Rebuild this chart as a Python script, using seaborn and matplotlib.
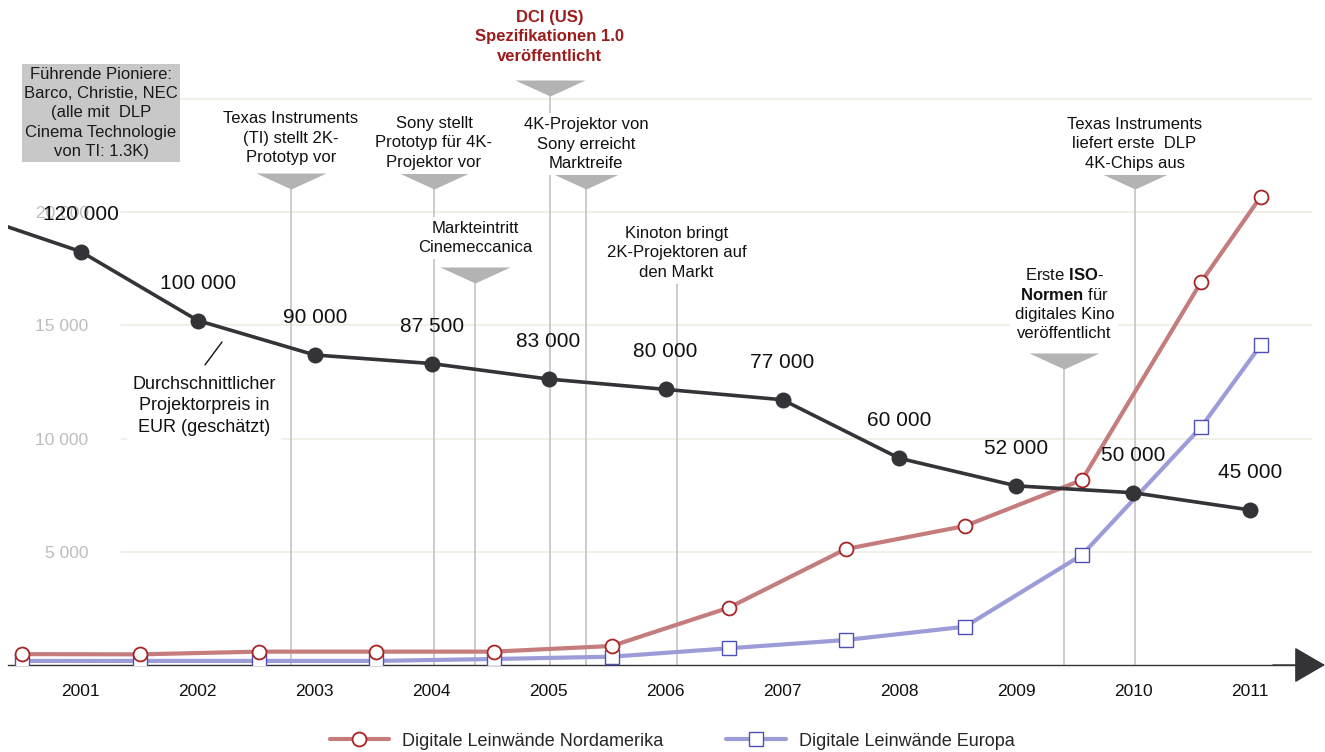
import matplotlib
matplotlib.use("Agg")
import matplotlib.pyplot as plt
import seaborn as sns

# data
years = [2001, 2002, 2003, 2004, 2005, 2006, 2007, 2008, 2009, 2010, 2011]
price_years = [2000] + years
price_eur = [131500, 120000, 100000, 90000, 87500, 83000, 80000, 77000, 60000, 52000, 50000, 45000]

year_bounds = [2000.5, 2001.5, 2002.5, 2003.5, 2004.5, 2005.5, 2006.5, 2007.5, 2008.5, 2009.5, 2010.5]
screen_years = [2000.5, 2001.51, 2002.52, 2003.52, 2004.53, 2005.54, 2006.54, 2007.54,
                2008.56, 2009.56, 2010.58, 2011.09]
screens_na = [480, 470, 590, 590, 590, 840, 2530, 5120, 6140, 8170, 16920, 20690]
screens_eu = [180, 180, 180, 180, 265, 367, 738, 1104, 1692, 4860, 10510, 14135]

grid_values = [5000, 10000, 15000, 20000, 25000]
tick_values = [5000, 10000, 15000, 20000]
tick_labels = ["5 000", "10 000", "15 000", "20 000"]

milestone_years = [2002.795, 2004.02, 2004.37, 2005.01, 2005.32, 2006.095, 2009.41, 2010.01]
milestone_texts = [
    "Texas Instruments\n(TI) stellt 2K-\nPrototyp vor",
    "Sony stellt\nPrototyp für 4K-\nProjektor vor",
    "Markteintritt\nCinemeccanica",
    "DCI (US)\nSpezifikationen 1.0\nveröffentlicht",
    "4K-Projektor von\nSony erreicht\nMarktreife",
    "Kinoton bringt\n2K-Projektoren auf\nden Markt",
    "Erste $\\mathbf{ISO}$-\n$\\mathbf{Normen}$ für\ndigitales Kino\nveröffentlicht",
    "Texas Instruments\nliefert erste  DLP\n4K-Chips aus",
]

pioneer_text = "Führende Pioniere:\nBarco, Christie, NEC\n(alle mit  DLP\nCinema Technologie\nvon TI: 1.3K)"
price_text = "Durchschnittlicher\nProjektorpreis in\nEUR (geschätzt)"
legend_labels = ["Digitale Leinwände Nordamerika", "Digitale Leinwände Europa"]

# layout (pixels in the 1325x752 picture)
AX_BOTTOM_PX = 665
PX_PER_YEAR = 116.95
X2001_PX = 80.8
tri_center_px = [181, 181, 275, 88, 181, 283, 361, 181]
text_center_px = [138, 143, 238, 37, 144, 253, 304, 144]
tri_width_px = [70, 70, 70, 70, 70, 10, 70, 70]

RED = "#c47c7c"
RED_EDGE = "#a82424"
BLUE = "#9c9cd8"
BLUE_EDGE = "#5050b4"
DARK = "#333338"
GRID = "#ecece0"
VLINE = "#c4c4c4"
TRI = "#b3b3b3"

sns.set_theme(style="white")
plt.rcParams["font.family"] = ["Liberation Sans", "DejaVu Sans"]
plt.rcParams["mathtext.fontset"] = "custom"
plt.rcParams["mathtext.rm"] = "Liberation Sans"
plt.rcParams["mathtext.bf"] = "Liberation Sans:bold"


def frac(px):
    return (AX_BOTTOM_PX - px) / AX_BOTTOM_PX


def px_to_year(px):
    return 2001 + (px - X2001_PX) / PX_PER_YEAR


def px_to_screens(py):
    return (AX_BOTTOM_PX - py) / 113.2 * 5000


fig = plt.figure(figsize=(13.25, 7.52), dpi=100)
ax = fig.add_axes([8 / 1325, (752 - AX_BOTTOM_PX) / 752, 1304 / 1325, AX_BOTTOM_PX / 752])
xmin = px_to_year(8)
ax.set_xlim(xmin, xmin + 1304 / PX_PER_YEAR)
ax.set_ylim(0, px_to_screens(0))

# background grid
for v in grid_values:
    ax.axhline(v, xmin=(121 - 8) / 1304, xmax=1.0, color=GRID, lw=1.1, zorder=0.5)

# milestones
tri_verts = [(-35, 8), (35, 8), (0, -8)]
xt = ax.get_xaxis_transform()
for x, txt, ty, cy, tw in zip(milestone_years, milestone_texts, tri_center_px, text_center_px, tri_width_px):
    ax.axvline(x, ymin=0, ymax=frac(ty), color=VLINE, lw=1.2, zorder=1)
    ax.plot([x], [frac(ty)], transform=xt, marker=tri_verts, ms=tw * 0.72,
            color=TRI, mec="none", zorder=1.2, clip_on=False)
    is_dci = txt.startswith("DCI")
    ax.text(x, frac(cy), txt, transform=xt, ha="center", va="center",
            fontsize=12, linespacing=1.35,
            color="#9c1c1c" if is_dci else "#111111",
            fontweight="bold" if is_dci else "normal",
            bbox=dict(boxstyle="square,pad=0.25", fc="white", ec="none"), zorder=3)

# screen counts
sns.lineplot(x=screen_years, y=screens_na, ax=ax, color=RED, lw=3, marker="o", ms=10,
             mfc="white", mec=RED_EDGE, mew=1.3, label=legend_labels[0], zorder=4)
sns.lineplot(x=screen_years, y=screens_eu, ax=ax, color=BLUE, lw=3, marker="s", ms=10,
             mfc="white", mec=BLUE_EDGE, mew=1.0, label=legend_labels[1], zorder=3.9)
if ax.get_legend() is not None:
    ax.get_legend().remove()

# axis styling
for side in ["left", "right", "top"]:
    ax.spines[side].set_visible(False)
ax.spines["bottom"].set_color(DARK)
ax.spines["bottom"].set_linewidth(1.0)
ax.set_xticks(years)
ax.set_xticklabels([str(y) for y in years])
ax.set_xticks(year_bounds, minor=True)
ax.tick_params(axis="x", which="major", length=0, pad=14, labelsize=12.5, labelcolor="#111111")
ax.tick_params(axis="x", which="minor", length=7, width=1, direction="inout", color=DARK)
ax.set_yticks(tick_values)
ax.set_yticklabels(tick_labels)
ax.tick_params(axis="y", length=0, pad=-58, labelsize=12.5, labelcolor="#bdbdbd")
ax.set_xlabel("")
ax.set_ylabel("")
ax.annotate("", xy=(1.01, 0), xytext=(0.97, 0), xycoords="axes fraction",
            arrowprops=dict(arrowstyle="-|>,head_length=1.0,head_width=0.58", mutation_scale=20,
                            color=DARK, lw=1, shrinkA=0, shrinkB=0),
            annotation_clip=False)

# price line on secondary scale
ax2 = ax.twinx()
ax2.set_ylim(0, AX_BOTTOM_PX / 3.445 * 1000)
sns.lineplot(x=price_years, y=price_eur, ax=ax2, color=DARK, lw=2.6, marker="o", ms=11.5,
             mec=DARK, mew=0, markevery=list(range(1, len(price_years))))
if ax2.get_legend() is not None:
    ax2.get_legend().remove()
ax2.set_yticks([])
ax2.set_ylabel("")
for side in ax2.spines:
    ax2.spines[side].set_visible(False)
for x, v in zip(years, price_eur[1:]):
    ax2.annotate(f"{v:,}".replace(",", " "), (x, v), xytext=(0, 27), textcoords="offset points",
                 ha="center", va="center", fontsize=15, color="#111111")

ax.annotate(price_text, xy=(px_to_year(222), px_to_screens(342)),
            xytext=(px_to_year(204), px_to_screens(406)),
            ha="center", va="center", fontsize=13, linespacing=1.35, color="#111111",
            bbox=dict(boxstyle="square,pad=0.3", fc="white", ec="none"),
            arrowprops=dict(arrowstyle="-", color="#111111", lw=1, relpos=(0.45, 1.0),
                            shrinkA=5, shrinkB=0), zorder=3)

fig.text(101 / 1325, 1 - 113 / 752, pioneer_text, ha="center", va="center", fontsize=12,
         linespacing=1.36, color="#1a1a1a",
         bbox=dict(boxstyle="square,pad=0.15", fc="#c8c8c8", ec="none"))

handles, labels = ax.get_legend_handles_labels()
fig.legend(handles[:2], labels[:2], loc="center", bbox_to_anchor=(672 / 1325, 1 - 741 / 752),
           ncol=2, frameon=False, fontsize=13, handlelength=3.3, columnspacing=3.5,
           handletextpad=0.7)

fig.savefig("out.png", dpi=100)
